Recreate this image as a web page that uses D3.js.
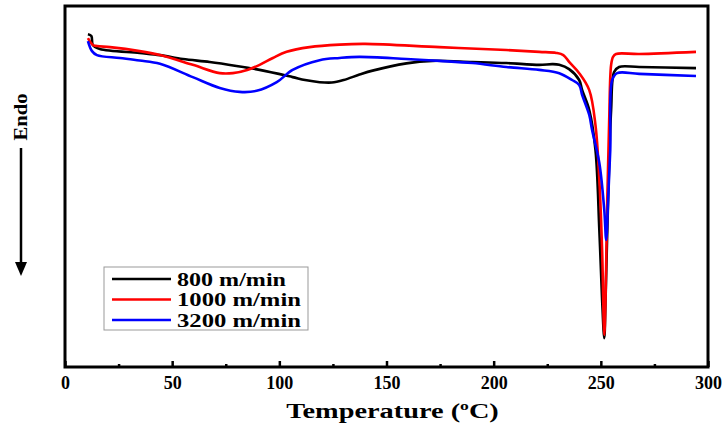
<!DOCTYPE html>
<html><head><meta charset="utf-8">
<script src="https://cdn.jsdelivr.net/npm/d3@7"></script>
<style>body{margin:0;background:#fff}</style></head>
<body>
<svg id="c" width="726" height="427"></svg>
<script>
// Data: DSC curves, temperature (°C) vs heat flow (a.u.)
const seriesNames = ["800 m/min", "1000 m/min", "3200 m/min"];
const seriesColors = ["#000000", "#ff0000", "#0000ff"];

const t800 = [10.7, 12.3, 13.0, 16.3, 34.8, 44.3, 55, 67.5, 80, 90.8, 106.2, 112, 118.8, 124.5, 130, 137.4, 143.5, 159.3, 171.4, 190.1, 205.9, 221.3, 227.5, 230.6, 235.2, 239.9, 241.3, 244.6, 247.5, 249.3, 250.6, 251.6, 252.2, 253.4, 254.8, 256.2, 258.5, 267.9, 294.4];
const v800 = [9.22, 9.17, 8.92, 8.81, 8.70, 8.64, 8.53, 8.45, 8.34, 8.23, 8.03, 7.95, 7.89, 7.88, 7.95, 8.10, 8.21, 8.41, 8.48, 8.45, 8.42, 8.37, 8.39, 8.37, 8.25, 7.95, 7.67, 7.12, 6.01, 3.80, 1.86, 0.80, 1.86, 4.63, 7.12, 8.17, 8.31, 8.31, 8.28];

const t1000 = [10.7, 13.0, 14.9, 21.0, 34.8, 44.3, 59.6, 72.2, 78.3, 85.0, 90.8, 97, 103.4, 114.1, 128.1, 140, 174.7, 205.9, 221.3, 229.2, 232.5, 235.2, 239.9, 244.6, 247.5, 249.3, 250.6, 251.6, 252.2, 253.0, 253.9, 254.8, 255.7, 257.1, 267.9, 294.4];
const v1000 = [9.11, 8.92, 8.89, 8.86, 8.75, 8.64, 8.37, 8.14, 8.14, 8.23, 8.37, 8.56, 8.73, 8.86, 8.93, 8.95, 8.86, 8.78, 8.73, 8.70, 8.64, 8.45, 8.14, 7.67, 6.70, 5.18, 3.24, 0.89, 1.86, 4.63, 6.84, 8.37, 8.59, 8.67, 8.67, 8.73];

const t3200 = [10.7, 12.6, 14.9, 25.6, 34.8, 44.3, 59.6, 72.2, 81.5, 89.4, 98.8, 106.2, 118.8, 128.1, 137.4, 159.3, 174.7, 190.1, 205.9, 221.3, 230.6, 236.6, 239.9, 241.3, 244.6, 245.9, 249.3, 251.6, 252.5, 253.4, 254.4, 255.3, 257.6, 267.9, 294.4];
const v3200 = [9.03, 8.75, 8.64, 8.56, 8.49, 8.40, 8.03, 7.73, 7.62, 7.65, 7.89, 8.23, 8.50, 8.56, 8.59, 8.53, 8.48, 8.42, 8.31, 8.23, 8.14, 7.95, 7.81, 7.53, 6.98, 6.57, 5.65, 4.35, 3.52, 4.63, 6.01, 7.95, 8.14, 8.12, 8.06];

const xMajorTicks = [0, 50, 100, 150, 200, 250, 300];
const xMinorTicks = [25, 75, 125, 175, 225, 275];
const xTitle = "Temperature (";
const yLabel = "Endo";

const series = [
  {name: seriesNames[0], color: seriesColors[0], t: t800, v: v800},
  {name: seriesNames[1], color: seriesColors[1], t: t1000, v: v1000},
  {name: seriesNames[2], color: seriesColors[2], t: t3200, v: v3200}
];

const L = 65, R = 708, T = 6, B = 367;
const svg = d3.select("#c");
svg.append("rect").attr("width", 726).attr("height", 427).attr("fill", "#fff");

const x = d3.scaleLinear().domain([0, 300]).range([L, R]);
const y = d3.scaleLinear().domain([0, 10]).range([B, T]);

const serif = "'Liberation Serif', 'Times New Roman', serif";

// curves
const line = d3.line().x(d => x(d[0])).y(d => y(d[1])).curve(d3.curveCatmullRom.alpha(0.5));
series.forEach(s => {
  svg.append("path")
    .datum(s.t.map((tt, i) => [tt, s.v[i]]))
    .attr("d", line)
    .attr("fill", "none")
    .attr("stroke", s.color)
    .attr("stroke-width", 2.6)
    .attr("stroke-linejoin", "round");
});

// frame
svg.append("rect").attr("x", L).attr("y", T).attr("width", R - L).attr("height", B - T)
  .attr("fill", "none").attr("stroke", "#000").attr("stroke-width", 3);

// axes
const gMaj = svg.append("g").attr("transform", `translate(0,${B})`)
  .call(d3.axisBottom(x).tickValues(xMajorTicks).tickSize(-6).tickPadding(9).tickFormat(d => d));
gMaj.select(".domain").remove();
gMaj.selectAll("line").attr("stroke-width", 2.5);
gMaj.selectAll("text").attr("font-family", serif).attr("font-weight", "bold").attr("font-size", 18).attr("fill", "#000");

const gMin = svg.append("g").attr("transform", `translate(0,${B})`)
  .call(d3.axisBottom(x).tickValues(xMinorTicks).tickSize(-3).tickFormat(""));
gMin.select(".domain").remove();
gMin.selectAll("line").attr("stroke-width", 2.5);

// x title
const tt = svg.append("text")
  .attr("transform", `translate(${(L + R) / 2 + 6},418) scale(1.35,1)`)
  .attr("text-anchor", "middle")
  .attr("font-family", serif).attr("font-weight", "bold").attr("font-size", 21);
tt.append("tspan").text(xTitle);
tt.append("tspan").text("o").attr("font-size", 13).attr("dy", -8);
tt.append("tspan").text("C)").attr("dy", 8);

// y label + arrow
svg.append("text")
  .attr("transform", "translate(27,117) rotate(-90)")
  .attr("text-anchor", "middle")
  .attr("font-family", serif).attr("font-weight", "bold").attr("font-size", 18)
  .attr("textLength", 47).attr("lengthAdjust", "spacingAndGlyphs")
  .text(yLabel);
svg.append("line").attr("x1", 21).attr("x2", 21).attr("y1", 148).attr("y2", 266)
  .attr("stroke", "#000").attr("stroke-width", 2.5);
svg.append("path").attr("d", "M15,262 L27,262 L21,276 Z").attr("fill", "#000");

// legend
const lg = svg.append("g");
lg.append("rect").attr("x", 104).attr("y", 267).attr("width", 204).attr("height", 63)
  .attr("fill", "#fff").attr("stroke", "#999").attr("stroke-width", 1);
const lw = [109, 124, 124];
series.forEach((s, i) => {
  const yy = 279 + i * 20.5;
  lg.append("line").attr("x1", 112).attr("x2", 171).attr("y1", yy).attr("y2", yy)
    .attr("stroke", s.color).attr("stroke-width", 2.6);
  lg.append("text").attr("x", 177).attr("y", yy + 6.5)
    .attr("font-family", serif).attr("font-weight", "bold").attr("font-size", 18)
    .attr("textLength", lw[i]).attr("lengthAdjust", "spacingAndGlyphs")
    .text(s.name);
});
</script>
</body></html>
